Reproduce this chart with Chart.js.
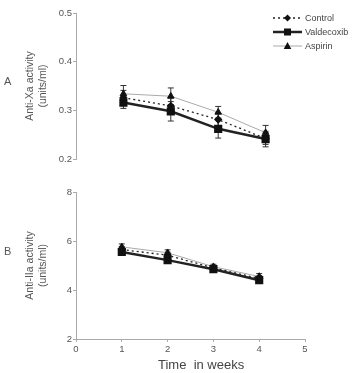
<!DOCTYPE html>
<html><head><meta charset="utf-8">
<script src="https://cdn.jsdelivr.net/npm/chart.js@4.4.0/dist/chart.umd.min.js"></script>
<style>
html,body{margin:0;padding:0;background:#fff;}
body{width:352px;height:373px;position:relative;overflow:hidden;font-family:"Liberation Sans",Arial,sans-serif;}
canvas{position:absolute;left:0;}
#cA{top:0}
#cB{top:175px}
.lbl{position:absolute;font-size:11px;color:#555;}
#legend{position:absolute;left:273px;top:11px;font-size:9px;color:#444;}
.row{height:14px;display:flex;align-items:center;white-space:nowrap;}
.row svg{margin-right:2px;}
#xt{position:absolute;top:357px;left:158px;font-size:13px;color:#444;white-space:pre;}
</style>
</head><body>
<canvas id="cA" width="352" height="175"></canvas>
<canvas id="cB" width="352" height="198"></canvas>
<div class="lbl" style="left:4px;top:75px;">A</div>
<div class="lbl" style="left:4px;top:245px;">B</div>
<div id="legend"></div>
<div id="xt">Time  in weeks</div>
<script>
// ---- data ----
const weeks = [1, 2, 3, 4];
const seriesNames = ['Control', 'Valdecoxib', 'Aspirin'];
// Panel A: Anti-Xa activity (units/ml)
const xaControl    = [0.326, 0.309, 0.281, 0.242];
const xaValdecoxib = [0.316, 0.298, 0.262, 0.241];
const xaAspirin    = [0.334, 0.329, 0.296, 0.254];
const xaControlErr    = [0.015, 0.016, 0.014, 0.012];
const xaValdecoxibErr = [0.012, 0.020, 0.019, 0.016];
const xaAspirinErr    = [0.017, 0.017, 0.012, 0.015];
// Panel B: Anti-IIa activity (units/ml)
const iiaControl    = [5.65, 5.42, 4.90, 4.47];
const iiaValdecoxib = [5.55, 5.22, 4.85, 4.40];
const iiaAspirin    = [5.76, 5.52, 4.95, 4.55];
const iiaControlErr    = [0.12, 0.12, 0.10, 0.12];
const iiaValdecoxibErr = [0.12, 0.12, 0.10, 0.12];
const iiaAspirinErr    = [0.12, 0.12, 0.10, 0.12];
const xTicks = [0, 1, 2, 3, 4, 5];
const yTicksA = [0.2, 0.3, 0.4, 0.5];
const yTicksB = [2, 4, 6, 8];

// ---- styles ----
const styles = [
  {borderColor:'#222', borderWidth:1.3, borderDash:[2,3], pointStyle:'rectRot', pointRadius:3.3, pointBackgroundColor:'#111', pointBorderColor:'#111'},
  {borderColor:'#222', borderWidth:2.5, borderDash:[], pointStyle:'rect', pointRadius:4, pointBackgroundColor:'#111', pointBorderColor:'#111'},
  {borderColor:'#aaa', borderWidth:1, borderDash:[], pointStyle:'triangle', pointRadius:3.8, pointBackgroundColor:'#111', pointBorderColor:'#111'}
];

function mk(vals, errs, i){
  return Object.assign({
    label: seriesNames[i],
    data: weeks.map((w,j)=>({x:w, y:vals[j]})),
    errors: errs,
    fill:false, tension:0
  }, styles[i]);
}

const errorBars = {
  id:'errorBars',
  beforeDatasetsDraw(chart){
    const {ctx, scales:{x,y}} = chart;
    ctx.save();
    ctx.strokeStyle = '#333';
    ctx.lineWidth = 1;
    chart.data.datasets.forEach(ds=>{
      ds.data.forEach((p,j)=>{
        const e = ds.errors[j];
        const px = x.getPixelForValue(p.x);
        const t = y.getPixelForValue(p.y + e);
        const b = y.getPixelForValue(p.y - e);
        ctx.beginPath();
        ctx.moveTo(px, t); ctx.lineTo(px, b);
        ctx.moveTo(px-3, t); ctx.lineTo(px+3, t);
        ctx.moveTo(px-3, b); ctx.lineTo(px+3, b);
        ctx.stroke();
      });
    });
    ctx.restore();
  }
};

const tickFont = {family:'"Liberation Sans", Arial, sans-serif', size:9.5};
const gridOpt = {display:true, drawOnChartArea:false, drawTicks:true, tickLength:3, color:'#aaa'};
const borderOpt = {display:true, color:'#aaa', width:1};

function yScale(min,max,step,ticksArr,title,dec){
  return {
    type:'linear', min, max,
    afterBuildTicks(s){ s.ticks = ticksArr.map(v=>({value:v})); },
    afterFit(s){ s.width = 76; },
    ticks:{font:tickFont, color:'#555', padding:1, callback:v=>dec?Number(v).toFixed(1):String(v)},
    grid:gridOpt, border:borderOpt,
    title:{display:true, text:title, color:'#555', font:{family:'"Liberation Sans", Arial, sans-serif', size:10.5}, padding:{top:24,bottom:0}}
  };
}

new Chart(document.getElementById('cA'), {
  type:'line',
  data:{datasets:[mk(xaControl,xaControlErr,0), mk(xaValdecoxib,xaValdecoxibErr,1), mk(xaAspirin,xaAspirinErr,2)]},
  options:{
    responsive:false, animation:false, devicePixelRatio:1,
    layout:{padding:{left:0,right:39,top:13,bottom:16}},
    plugins:{legend:{display:false}, tooltip:{enabled:false}},
    scales:{
      x:{type:'linear', min:0, max:5, display:false},
      y:yScale(0.2,0.5,0.1,yTicksA,['Anti-Xa activity','(units/ml)'],true)
    }
  },
  plugins:[errorBars]
});

new Chart(document.getElementById('cB'), {
  type:'line',
  data:{datasets:[mk(iiaControl,iiaControlErr,0), mk(iiaValdecoxib,iiaValdecoxibErr,1), mk(iiaAspirin,iiaAspirinErr,2)]},
  options:{
    responsive:false, animation:false, devicePixelRatio:1,
    layout:{padding:{left:0,right:47,top:17,bottom:0}},
    plugins:{legend:{display:false}, tooltip:{enabled:false}},
    scales:{
      x:{type:'linear', min:0, max:5,
        afterBuildTicks(s){ s.ticks = xTicks.map(v=>({value:v})); },
        afterFit(s){ s.height = 34; },
        ticks:{font:tickFont, color:'#555', padding:2},
        grid:gridOpt, border:borderOpt},
      y:yScale(2,8,2,yTicksB,['Anti-IIa activity','(units/ml)'],false)
    }
  },
  plugins:[errorBars]
});

// ---- legend (HTML) ----
const leg = document.getElementById('legend');
function marker(st){
  const c = 14.5, m = 7;
  if(st.pointStyle==='rectRot') return `<polygon points="${c},${m-3.5} ${c+3.5},${m} ${c},${m+3.5} ${c-3.5},${m}" fill="#111"/>`;
  if(st.pointStyle==='rect') return `<rect x="${c-3.5}" y="${m-3.5}" width="7" height="7" fill="#111"/>`;
  return `<polygon points="${c},${m-4} ${c+3.8},${m+3} ${c-3.8},${m+3}" fill="#111"/>`;
}
seriesNames.forEach((n,i)=>{
  const st = styles[i];
  const dash = st.borderDash.length ? `stroke-dasharray="${st.borderDash.join(',')}"` : '';
  leg.innerHTML += `<div class="row"><svg width="30" height="14"><line x1="0" y1="7" x2="29" y2="7" stroke="${st.borderColor}" stroke-width="${st.borderWidth}" ${dash}/>${marker(st)}</svg><span>${n}</span></div>`;
});
</script>
</body></html>
